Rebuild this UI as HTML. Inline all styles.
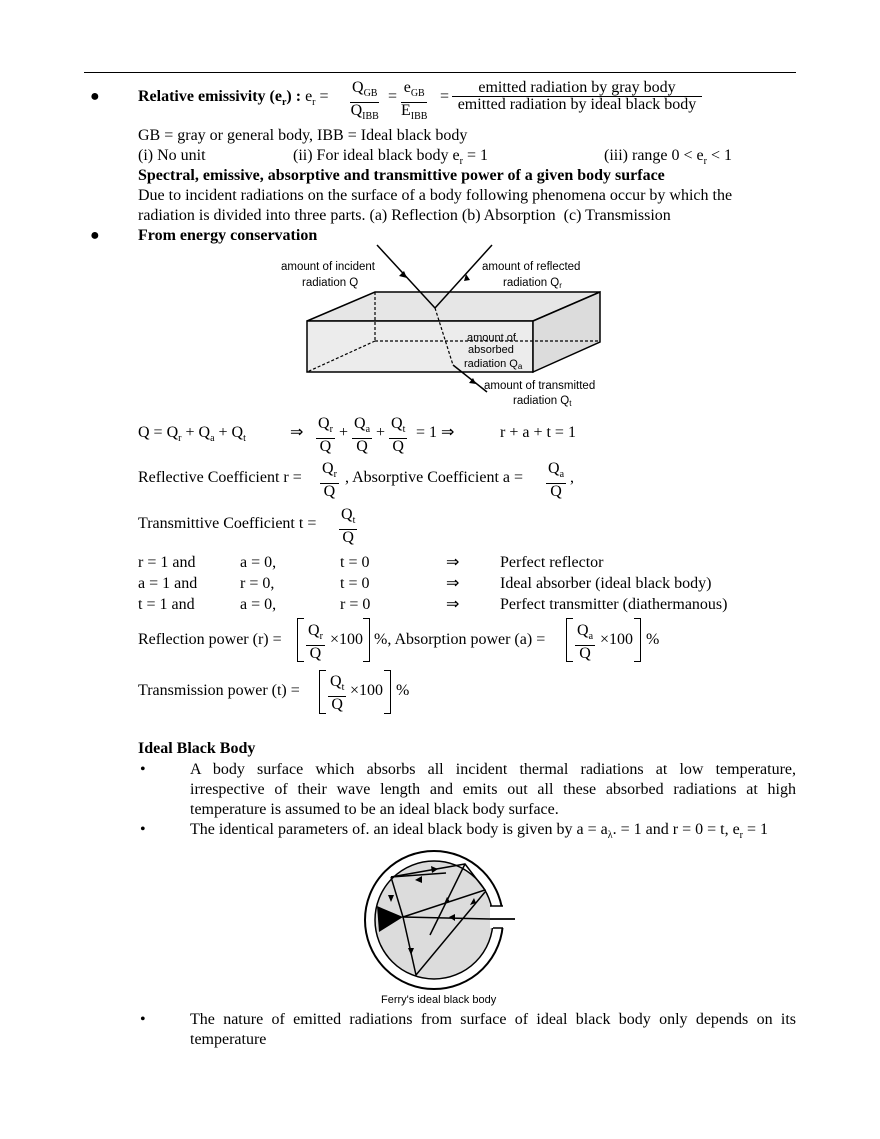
<!DOCTYPE html>
<html><head><meta charset="utf-8"><style>
body{margin:0;background:#fff;}
#p{position:relative;width:880px;height:1139px;font-family:"Liberation Serif",serif;font-size:16px;color:#000;}
.t{position:absolute;white-space:nowrap;line-height:18px;}
.j{position:absolute;left:190px;width:606px;text-align:justify;text-align-last:justify;white-space:nowrap;line-height:18px;}
.f{position:absolute;display:inline-block;text-align:center;line-height:16px;}
.f .n{border-bottom:1px solid #000;padding:0 2px;}
.s{font-size:10px;}
b{font-weight:bold;}
.br{position:absolute;border:1.3px solid #000;width:6px;}
</style></head><body><div id="p">
<div style="position:absolute;left:84px;top:72px;width:712px;border-top:1px solid #000"></div>

<div class="t" style="left:90px;top:88px">●</div>
<div class="t" style="left:138px;top:88px"><b>Relative emissivity (e<sub class="s">r</sub>) :</b> e<sub class="s">r</sub> =</div>
<div class="f" style="left:350px;top:80px"><div class="n">Q<sub class="s">GB</sub></div><div>Q<sub class="s">IBB</sub></div></div>
<div class="t" style="left:388px;top:88px">=</div>
<div class="f" style="left:401px;top:80px"><div class="n">e<sub class="s">GB</sub></div><div>E<sub class="s">IBB</sub></div></div>
<div class="t" style="left:440px;top:88px">=</div>
<div class="f" style="left:452px;top:80px;width:250px"><div class="n">emitted radiation by gray body</div><div>emitted radiation by ideal black body</div></div>

<div class="t" style="left:138px;top:127px">GB = gray or general body, IBB = Ideal black body</div>
<div class="t" style="left:138px;top:147px">(i) No unit</div>
<div class="t" style="left:293px;top:147px">(ii) For ideal black body e<sub class="s">r</sub> = 1</div>
<div class="t" style="left:604px;top:147px">(iii) range 0 &lt; e<sub class="s">r</sub> &lt; 1</div>
<div class="t" style="left:138px;top:167px"><b>Spectral, emissive, absorptive and transmittive power of a given body surface</b></div>
<div class="t" style="left:138px;top:187px">Due to incident radiations on the surface of a body following phenomena occur by which the</div>
<div class="t" style="left:138px;top:207px">radiation is divided into three parts. (a) Reflection (b) Absorption &nbsp;(c) Transmission</div>
<div class="t" style="left:90px;top:227px">●</div>
<div class="t" style="left:138px;top:227px"><b>From energy conservation</b></div>

<svg style="position:absolute;left:0;top:0" width="880" height="1139">
<g fill="#e6e6e6" stroke="#000" stroke-width="1.5">
<polygon points="307,321 375,292 600,292 533,321"/>
<rect x="307" y="321" width="226" height="51" fill="#ececec"/>
<polygon points="533,321 600,292 600,342 533,372" fill="#dcdcdc"/>
</g>
<g stroke="#000" stroke-width="1.2" stroke-dasharray="3,2" fill="none">
<line x1="375" y1="292" x2="375" y2="341"/><line x1="375" y1="341" x2="600" y2="341"/><line x1="375" y1="341" x2="307" y2="372"/>
<line x1="435" y1="308" x2="453" y2="365"/>
</g>
<g stroke="#000" stroke-width="1.5" fill="none">
<line x1="377" y1="245" x2="435" y2="308"/><line x1="435" y1="308" x2="492" y2="245"/><line x1="453" y1="365" x2="487" y2="392"/>
</g>
<g fill="#000"><polygon points="407,278 399,276 404,271"/><polygon points="466,274 464,281 470,280"/><polygon points="476,384 469,383 473,378"/></g>
<g font-family="Liberation Sans,sans-serif" font-size="11.5" fill="#000">
<text x="281" y="270">amount of incident</text><text x="302" y="286">radiation Q</text>
<text x="482" y="270">amount of reflected</text><text x="503" y="286">radiation Q<tspan font-size="8" dy="2">r</tspan></text>
<text x="467" y="341" font-size="11">amount of</text><text x="468" y="353" font-size="11">absorbed</text><text x="464" y="367" font-size="11">radiation Q<tspan font-size="8" dy="2">a</tspan></text>
<text x="484" y="389">amount of transmitted</text><text x="513" y="404">radiation Q<tspan font-size="8" dy="2">t</tspan></text>
</g>

<circle cx="434" cy="920" r="69" fill="#fff" stroke="#000" stroke-width="2"/>
<circle cx="434" cy="920" r="59" fill="#dcdcdc" stroke="#000" stroke-width="1.5"/>
<rect x="490" y="906" width="20" height="22" fill="#fff"/>
<line x1="490" y1="906" x2="503" y2="906" stroke="#000" stroke-width="1.5"/><line x1="490" y1="919" x2="515" y2="919" stroke="#000" stroke-width="1.8"/><line x1="493" y1="928" x2="503" y2="928" stroke="#000" stroke-width="1.5"/>
<polygon points="377,906 403,917 379,932" fill="#000"/>
<g stroke="#000" stroke-width="1.5" fill="none">
<polyline points="391,877 465,864 485,890 403,917 391,877"/>
<line x1="403" y1="917" x2="490" y2="919"/>
<polyline points="403,917 416,975 485,892"/>
<polyline points="465,864 430,935"/><line x1="391" y1="877" x2="446" y2="873"/>
</g>
<g fill="#000"><polygon points="415,880 422,876 422,883"/><polygon points="438,869 431,866 432,873"/><polygon points="391,902 388,895 394,895"/><polygon points="411,955 408,948 414,948"/><polygon points="476,903 470,905 474,898"/><polygon points="449,917 455,914 455,921"/><polygon points="447,897 444,904 450,902"/></g>
<text x="381" y="1003" font-family="Liberation Sans,sans-serif" font-size="11">Ferry's ideal black body</text>
</svg>

<div class="t" style="left:138px;top:424px">Q = Q<sub class="s">r</sub> + Q<sub class="s">a</sub> + Q<sub class="s">t</sub></div>
<div class="t" style="left:290px;top:424px">⇒</div>
<div class="f" style="left:316px;top:416px"><div class="n">Q<sub class="s">r</sub></div><div>Q</div></div>
<div class="t" style="left:339px;top:424px">+</div>
<div class="f" style="left:352px;top:416px"><div class="n">Q<sub class="s">a</sub></div><div>Q</div></div>
<div class="t" style="left:376px;top:424px">+</div>
<div class="f" style="left:389px;top:416px"><div class="n">Q<sub class="s">t</sub></div><div>Q</div></div>
<div class="t" style="left:416px;top:424px">= 1 ⇒</div>
<div class="t" style="left:500px;top:424px">r + a + t = 1</div>

<div class="t" style="left:138px;top:469px">Reflective Coefficient r =</div>
<div class="f" style="left:320px;top:461px"><div class="n">Q<sub class="s">r</sub></div><div>Q</div></div>
<div class="t" style="left:345px;top:469px">, Absorptive Coefficient a =</div>
<div class="f" style="left:546px;top:461px"><div class="n">Q<sub class="s">a</sub></div><div>Q</div></div>
<div class="t" style="left:570px;top:469px">,</div>
<div class="t" style="left:138px;top:515px">Transmittive Coefficient t =</div>
<div class="f" style="left:339px;top:507px"><div class="n">Q<sub class="s">t</sub></div><div>Q</div></div>

<div class="t" style="left:138px;top:554px">r = 1 and</div><div class="t" style="left:240px;top:554px">a = 0,</div><div class="t" style="left:340px;top:554px">t = 0</div><div class="t" style="left:446px;top:554px">⇒</div><div class="t" style="left:500px;top:554px">Perfect reflector</div>
<div class="t" style="left:138px;top:575px">a = 1 and</div><div class="t" style="left:240px;top:575px">r = 0,</div><div class="t" style="left:340px;top:575px">t = 0</div><div class="t" style="left:446px;top:575px">⇒</div><div class="t" style="left:500px;top:575px">Ideal absorber (ideal black body)</div>
<div class="t" style="left:138px;top:596px">t = 1 and</div><div class="t" style="left:240px;top:596px">a = 0,</div><div class="t" style="left:340px;top:596px">r = 0</div><div class="t" style="left:446px;top:596px">⇒</div><div class="t" style="left:500px;top:596px">Perfect transmitter (diathermanous)</div>

<div class="t" style="left:138px;top:631px">Reflection power (r) =</div>
<div class="br" style="left:297px;top:618px;height:42px;border-right:none"></div>
<div class="f" style="left:306px;top:623px"><div class="n">Q<sub class="s">r</sub></div><div>Q</div></div>
<div class="t" style="left:330px;top:631px">×100</div>
<div class="br" style="left:363px;top:618px;height:42px;border-left:none"></div>
<div class="t" style="left:374px;top:631px">%, Absorption power (a) =</div>
<div class="br" style="left:566px;top:618px;height:42px;border-right:none"></div>
<div class="f" style="left:575px;top:623px"><div class="n">Q<sub class="s">a</sub></div><div>Q</div></div>
<div class="t" style="left:600px;top:631px">×100</div>
<div class="br" style="left:634px;top:618px;height:42px;border-left:none"></div>
<div class="t" style="left:646px;top:631px">%</div>

<div class="t" style="left:138px;top:682px">Transmission power (t) =</div>
<div class="br" style="left:319px;top:670px;height:42px;border-right:none"></div>
<div class="f" style="left:328px;top:674px"><div class="n">Q<sub class="s">t</sub></div><div>Q</div></div>
<div class="t" style="left:350px;top:682px">×100</div>
<div class="br" style="left:384px;top:670px;height:42px;border-left:none"></div>
<div class="t" style="left:396px;top:682px">%</div>

<div class="t" style="left:138px;top:740px"><b>Ideal Black Body</b></div>
<div class="t" style="left:140px;top:761px">•</div>
<div class="j" style="top:761px">A body surface which absorbs all incident thermal radiations at low temperature,</div>
<div class="j" style="top:781px">irrespective of their wave length and emits out all these absorbed radiations at high</div>
<div class="t" style="left:190px;top:801px">temperature is assumed to be an ideal black body surface.</div>
<div class="t" style="left:140px;top:821px">•</div>
<div class="t" style="left:190px;top:821px">The identical parameters of. an ideal black body is given by a = a<sub class="s">λ</sub>. = 1 and r = 0 = t, e<sub class="s">r</sub> = 1</div>
<div class="t" style="left:140px;top:1011px">•</div>
<div class="j" style="top:1011px">The nature of emitted radiations from surface of ideal black body only depends on its</div>
<div class="t" style="left:190px;top:1031px">temperature</div>
</div></body></html>
